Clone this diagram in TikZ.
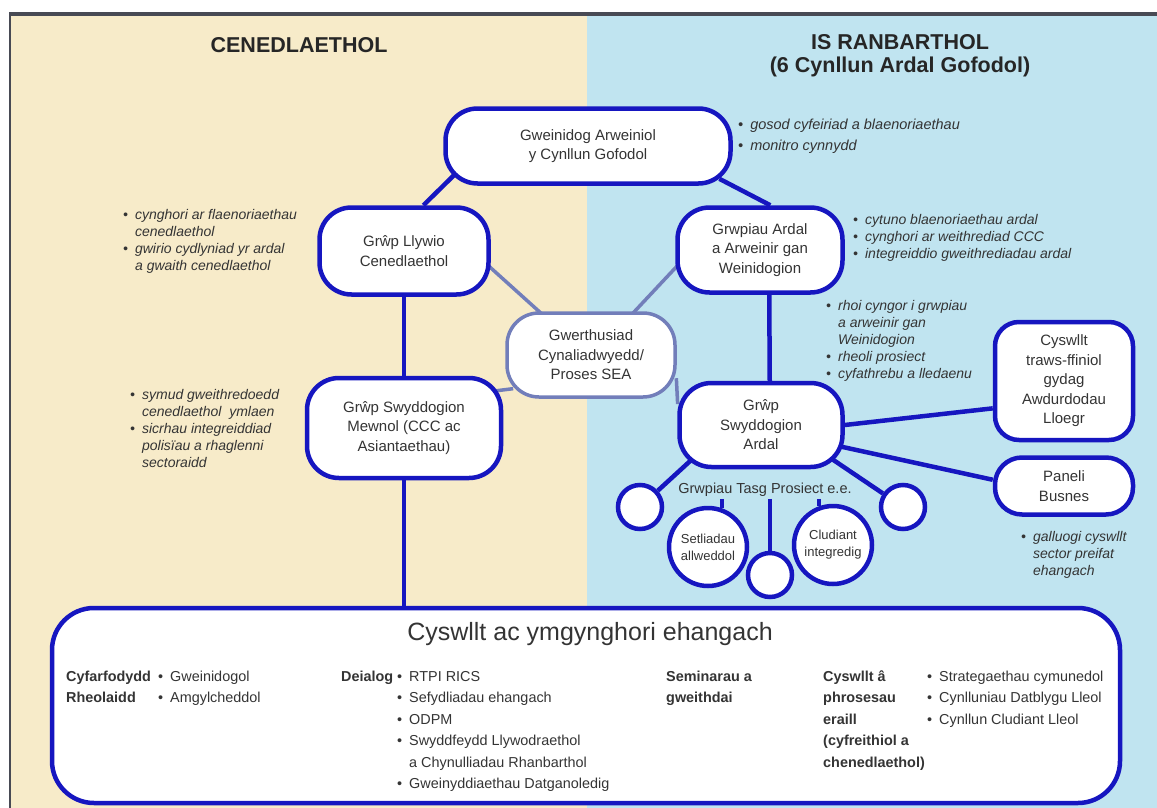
\documentclass[tikz,border=0pt]{standalone}
\usepackage{fontspec}
\setmainfont{Liberation Sans}
\usetikzlibrary{positioning}

\definecolor{beige}{RGB}{247,235,201}
\definecolor{sky}{RGB}{192,228,240}
\definecolor{navy}{RGB}{22,22,192}
\definecolor{slate}{RGB}{114,126,186}
\definecolor{ink}{RGB}{52,52,52}
\definecolor{rim}{RGB}{72,74,84}

\pgfdeclarelayer{back}
\pgfdeclarelayer{links}
\pgfsetlayers{back,links,main}

\newcommand{\nodefont}{\fontsize{15}{19.5}\selectfont}
\newcommand{\notefont}{\fontsize{14}{17}\selectfont\itshape}
\newcommand{\boxfont}{\fontsize{14.4}{21.5}\selectfont}
\newcommand{\bul}{\textbullet}
\newcommand{\col}[1]{\begin{tabular}{@{}l@{}}#1\end{tabular}}
\newcommand{\pts}[1]{\begin{tabular}{@{}l@{\hspace{7pt}}l@{}}#1\end{tabular}}

\begin{document}
\begin{tikzpicture}[x=1pt, y=-1pt,
    main/.style = {draw=navy, line width=4.5pt, fill=white, rounded corners=32pt, align=center, inner sep=0pt, text=ink, font=\nodefont},
    sea/.style = {main, draw=slate, line width=3.5pt},
    ring/.style = {main, circle, font=\fontsize{13}{17}\selectfont},
    note/.style = {anchor=north west, inner sep=0pt, text=ink, font=\notefont},
    bottom/.style = {anchor=north west, inner sep=0pt, text=ink, font=\boxfont},
    head/.style = {align=center, text=black!85, font=\fontsize{21.5}{23}\selectfont\bfseries},
    link/.style = {navy, line width=4.5pt},
    soft/.style = {slate, line width=3.5pt, shorten <=-8pt, shorten >=-8pt}]
    \useasboundingbox (0,0) rectangle (1157,808);
    \begin{pgfonlayer}{back}
        \fill[beige] (10,14) rectangle (587,808);
        \fill[sky] (587,14) rectangle (1157,808);
        \draw[rim, line width=2pt] (10,14) -- (10,808);
        \draw[rim, line width=3.5pt] (9,14) -- (1157,14);
    \end{pgfonlayer}

    \node[head] (nat) at (299,45) {CENEDLAETHOL};
    \node[head] (reg) at (900,56) {IS RANBARTHOL\\(6 Cynllun Ardal Gofodol)};

    \node[main, minimum width=285, minimum height=75] (lead) at (588,146) {Gweinidog Arweiniol\\y Cynllun Gofodol};
    \node[main, minimum width=169, minimum height=87] (steer) at (404,251) {Grŵp Llywio\\Cenedlaethol};
    \node[main, minimum width=194, minimum height=100] (inner) at (404,428) {Grŵp Swyddogion\\Mewnol (CCC ac\\Asiantaethau)};
    \node[sea, minimum width=168, minimum height=84] (appraise) at (591,355) {Gwerthusiad\\Cynaliadwyedd/\\Proses SEA};
    \node[main, minimum width=165, minimum height=85] (area) at (760,250) {Grwpiau Ardal\\a Arweinir gan\\Weinidogion};
    \node[main, minimum width=163, minimum height=84] (officers) at (761,425) {Grŵp\\Swyddogion\\Ardal};
    \node[main, rounded corners=24pt, minimum width=138, minimum height=118] (cross) at (1064,381) {Cyswllt\\traws-ffiniol\\gydag\\Awdurdodau\\Lloegr};
    \node[main, rounded corners=27pt, minimum width=138, minimum height=57, below=13pt of cross] (panel) {Paneli\\Busnes};

    \node[text=ink, font=\fontsize{14.5}{17}\selectfont, inner sep=2pt] (tasg) at (765,490) {Grwpiau Tasg Prosiect e.e.};
    \node[ring, minimum size=44] (c1) at (640,507) {};
    \node[ring, minimum size=78] (c2) at (708,547) {Setliadau\\allweddol};
    \node[ring, minimum size=44] (c3) at (770,575) {};
    \node[ring, minimum size=78] (c4) at (833,545) {Cludiant\\integredig};
    \node[ring, minimum size=44] (c5) at (903,507) {};

    \node[note, font=\fontsize{14.5}{21}\selectfont\itshape] (n1) at (738,115) {\pts{\bul & gosod cyfeiriad a blaenoriaethau\\ \bul & monitro cynnydd}};
    \node[note] (n2) at (123,207) {\pts{\bul & cynghori ar flaenoriaethau\\ & cenedlaethol\\ \bul & gwirio cydlyniad yr ardal\\ & a gwaith cenedlaethol}};
    \node[note] (n3) at (853,212) {\pts{\bul & cytuno blaenoriaethau ardal\\ \bul & cynghori ar weithrediad CCC\\ \bul & integreiddio gweithrediadau ardal}};
    \node[note] (n4) at (826,298) {\pts{\bul & rhoi cyngor i grwpiau\\ & a arweinir gan\\ & Weinidogion\\ \bul & rheoli prosiect\\ \bul & cyfathrebu a lledaenu}};
    \node[note] (n5) at (130,387) {\pts{\bul & symud gweithredoedd\\ & cenedlaethol\ \ ymlaen\\ \bul & sicrhau integreiddiad\\ & polisïau a rhaglenni\\ & sectoraidd}};
    \node[note] (n6) at (1021,529) {\pts{\bul & galluogi cyswllt\\ & sector preifat\\ & ehangach}};

    \node[main, rounded corners=42pt, minimum width=1068, minimum height=195] (wide) at (586,705.5) {};
    \node[text=ink, font=\fontsize{25}{28}\selectfont] (title) at (590,634) {Cyswllt ac ymgynghori ehangach};
    \node[bottom, font=\boxfont\bfseries] (meet) at (66,666) {\col{Cyfarfodydd\\Rheolaidd}};
    \node[bottom] (meetlist) at (158,666) {\pts{\bul & Gweinidogol\\ \bul & Amgylcheddol}};
    \node[bottom, font=\boxfont\bfseries] (talk) at (341,666) {\col{Deialog}};
    \node[bottom] (talklist) at (397,666) {\pts{\bul & RTPI RICS\\ \bul & Sefydliadau ehangach\\ \bul & ODPM\\ \bul & Swyddfeydd Llywodraethol\\ & a Chynulliadau Rhanbarthol\\ \bul & Gweinyddiaethau Datganoledig}};
    \node[bottom, font=\boxfont\bfseries] (semi) at (666,666) {\col{Seminarau a\\gweithdai}};
    \node[bottom, font=\boxfont\bfseries] (other) at (823,666) {\col{Cyswllt â\\phrosesau\\eraill\\(cyfreithiol a\\chenedlaethol)}};
    \node[bottom] (otherlist) at (927,666) {\pts{\bul & Strategaethau cymunedol\\ \bul & Cynlluniau Datblygu Lleol\\ \bul & Cynllun Cludiant Lleol}};

    \begin{pgfonlayer}{links}
        \draw[link, shorten >=-15pt] (steer.67) -- (lead.south west);
        \draw[link, shorten >=-15pt] (area.77) -- (lead.south east);
        \draw[link] (steer) -- (inner);
        \draw[link] (inner) -- (inner |- wide.north);
        \draw[link] ([xshift=9pt]area.center) -- ([xshift=9pt]officers.center);
        \draw[soft] (steer.-11) -- (appraise.140);
        \draw[soft] (area.192) -- (appraise.45);
        \draw[soft] (inner.21) -- (appraise.202);
        \draw[soft] (officers.161) -- (appraise.-20);
        \draw[link, shorten >=-12pt] (cross.201) -- (officers.east);
        \draw[link, shorten >=-12pt] (panel.175) -- (officers.-15);
        \draw[link, shorten >=-18pt] (c1) -- (officers.209);
        \draw[link, shorten >=-18pt] (c5) -- (officers.-27);
        \draw[link] (tasg.south -| c2.70) -- (c2.70);
        \draw[link] (tasg.south -| c3.north) -- (c3);
        \draw[link] (tasg.south -| c4.110) -- (c4.110);
    \end{pgfonlayer}
\end{tikzpicture}
\end{document}
